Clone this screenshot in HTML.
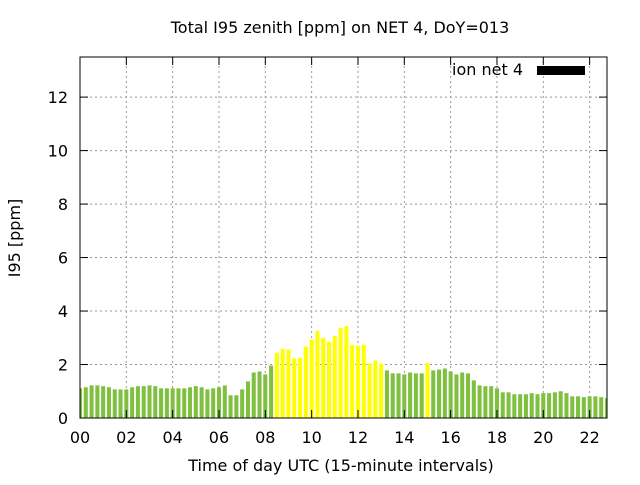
<!DOCTYPE html>
<html><head><meta charset="utf-8"><style>
body{margin:0;background:#fff}
svg text{font-family:"DejaVu Sans","Liberation Sans",sans-serif;font-size:16px;fill:#000}
</style></head><body>
<svg id="chart" width="640" height="480">
<text x="340" y="33" text-anchor="middle">Total I95 zenith [ppm] on NET 4, DoY=013</text>
<text x="341" y="471" text-anchor="middle">Time of day UTC (15-minute intervals)</text>
<text transform="translate(20,238) rotate(-90)" text-anchor="middle">I95 [ppm]</text>
<g id="grid"></g><g id="bars"></g><g id="ticks"></g>
<rect x="80" y="57" width="527" height="361" fill="none" stroke="#000" stroke-width="1"/>
<g>
<text x="523" y="75" text-anchor="end">ion net 4</text>
<rect x="537" y="66" width="48" height="9" fill="#000"/>
</g>
</svg>
<script>
const values=[1.11,1.15,1.22,1.22,1.19,1.15,1.07,1.07,1.07,1.15,1.19,1.19,1.22,1.19,1.11,1.11,1.11,1.11,1.11,1.15,1.19,1.15,1.07,1.11,1.15,1.22,0.85,0.85,1.07,1.37,1.70,1.74,1.63,1.96,2.44,2.59,2.56,2.22,2.26,2.67,2.93,3.26,3.0,2.85,3.07,3.37,3.44,2.74,2.70,2.74,2.04,2.15,2.04,1.78,1.67,1.67,1.63,1.70,1.67,1.67,2.04,1.78,1.81,1.85,1.74,1.63,1.70,1.67,1.41,1.22,1.19,1.19,1.11,0.96,0.96,0.89,0.89,0.89,0.93,0.89,0.93,0.93,0.96,1.0,0.93,0.81,0.81,0.78,0.81,0.81,0.78,0.74];
const xTicks=["00","02","04","06","08","10","12","14","16","18","20","22"];
const yTicks=[0,2,4,6,8,10,12];
const threshold=2;
const X0=80,X1=607,Y0=418,Y1=57,XMAX=22.75,YMAX=13.5;
const sx=h=>X0+h/XMAX*(X1-X0);
const sy=v=>Y0-v/YMAX*(Y0-Y1);
const NS="http://www.w3.org/2000/svg";
function mk(t,a,p){const e=document.createElementNS(NS,t);for(const k in a)e.setAttribute(k,a[k]);p.appendChild(e);return e;}
const grid=document.getElementById('grid'),ticks=document.getElementById('ticks'),bars=document.getElementById('bars');
yTicks.forEach(v=>{const y=sy(v);
 if(v>0){const g=mk('line',{x1:X0,x2:X1,y1:y,y2:y,stroke:'#999','stroke-dasharray':'2,3'},grid);
 
 }
 mk('line',{x1:X0,x2:X0+8,y1:y,y2:y,stroke:'#000'},ticks);
 mk('line',{x1:X1,x2:X1-8,y1:y,y2:y,stroke:'#000'},ticks);
 const t=mk('text',{x:X0-12,y:y+6,'text-anchor':'end'},ticks);t.textContent=v;
 
 
});
xTicks.forEach(s=>{const x=sx(parseInt(s,10));
 if(x>X0+1){const g=mk('line',{x1:x,x2:x,y1:Y0,y2:Y1,stroke:'#999','stroke-dasharray':'2,3'},grid);
 
 }
 mk('line',{x1:x,x2:x,y1:Y0,y2:Y0-8,stroke:'#000'},ticks);
 mk('line',{x1:x,x2:x,y1:Y1,y2:Y1+8,stroke:'#000'},ticks);
 const t=mk('text',{x:x,y:Y0+25,'text-anchor':'middle'},ticks);t.textContent=s;
 
 
});
const step=(sx(0.25)-sx(0)),bw=step*0.7;
values.forEach((v,i)=>{const c=sx(i*0.25);let l=c-bw/2,r=c+bw/2;l=Math.max(l,X0);r=Math.min(r,X1);
 const b=mk('rect',{x:l,y:sy(v),width:Math.max(0,r-l),height:Y0-sy(v),fill:v>threshold?'#ffff00':'#80c040'},bars);
 
 
});
</script>
</body></html>
